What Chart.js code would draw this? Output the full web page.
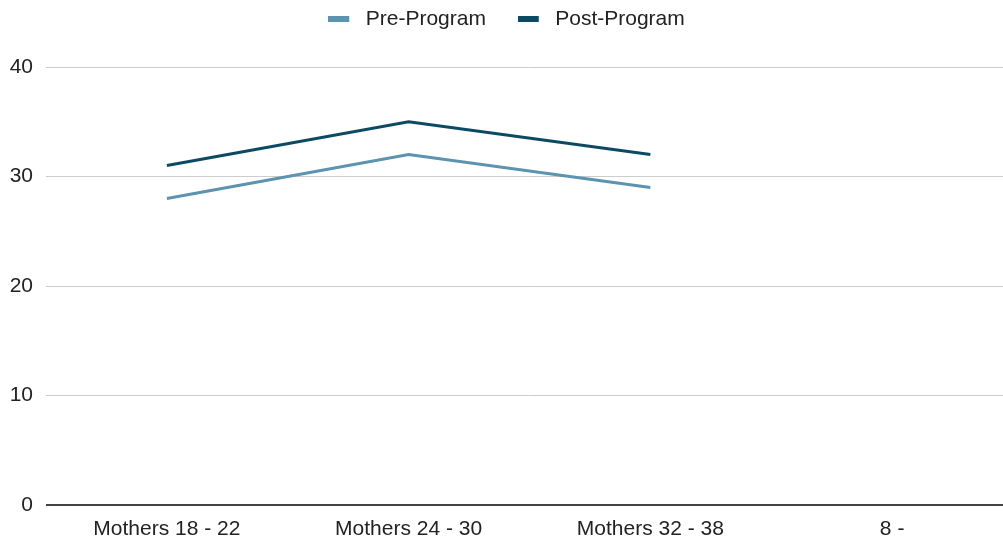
<!DOCTYPE html>
<html>
<head>
<meta charset="utf-8">
<script src="https://cdn.jsdelivr.net/npm/chart.js@4/dist/chart.umd.min.js"></script>
<style>
  html, body { margin: 0; padding: 0; background: #fff; overflow: hidden; }
  /* the original chart is slightly wider than the window and gets clipped on the right */
  #wrap { position: relative; width: 1013px; height: 540px; }
</style>
</head>
<body>
<div id="wrap"><canvas id="chart"></canvas></div>
<script>
// Chart data
const categories = ['Mothers 18 - 22', 'Mothers 24 - 30', 'Mothers 32 - 38', '8 -'];
const seriesNames = ['Pre-Program', 'Post-Program'];
const preProgram = [28, 32, 29, null];
const postProgram = [31, 35, 32, null];
const yTicks = [0, 10, 20, 30, 40];

const preColor = '#5b93b0';
const postColor = '#0b4a62';
const textColor = '#222222';
const font = { family: '"Liberation Sans", Arial, sans-serif', size: 21 };

// flat legend swatch with a little room after it
function swatch(color) {
  const c = document.createElement('canvas');
  c.width = 27; c.height = 6;
  const ctx = c.getContext('2d');
  ctx.fillStyle = color;
  ctx.fillRect(0, 0, 21, 6);
  return c;
}

new Chart(document.getElementById('chart'), {
  type: 'line',
  data: {
    labels: categories,
    datasets: [
      { label: seriesNames[0], data: preProgram, xAxisID: 'x', yAxisID: 'y', borderColor: preColor, backgroundColor: preColor, borderWidth: 3, pointRadius: 0, pointStyle: swatch(preColor), tension: 0 },
      { label: seriesNames[1], data: postProgram, xAxisID: 'x', yAxisID: 'y', borderColor: postColor, backgroundColor: postColor, borderWidth: 3, pointRadius: 0, pointStyle: swatch(postColor), tension: 0 }
    ]
  },
  options: {
    responsive: true,
    maintainAspectRatio: false,
    animation: false,
    layout: { padding: 0 },
    plugins: {
      legend: {
        position: 'top',
        labels: {
          color: textColor, font: font, usePointStyle: true, pointStyleWidth: 27, boxHeight: 6, padding: 8.5,
          // wider gap between the two items, without pushing the legend down
          generateLabels: (chart) => Chart.defaults.plugins.legend.labels.generateLabels(chart)
            .map((item, i) => Object.assign(item, { text: i === 0 ? item.text + '    ' : item.text }))
        }
      },
      tooltip: { enabled: false }
    },
    scales: {
      x: {
        offset: true,
        afterFit: (s) => { s.height = 35; },
        grid: { display: false, drawTicks: false },
        border: { display: false },
        ticks: { color: textColor, font: font, padding: 12, maxRotation: 0, autoSkip: false }
      },
      // empty spacer between legend and plot
      xTop: {
        position: 'top',
        offset: true,
        afterFit: (s) => { s.height = 27.5; },
        grid: { display: false, drawTicks: false },
        border: { display: false },
        ticks: { display: false }
      },
      y: {
        min: 0,
        max: 40,
        afterFit: (s) => { s.width = 46; },
        afterBuildTicks: (s) => { s.ticks = yTicks.map(v => ({ value: v })); },
        border: { display: false },
        grid: {
          drawTicks: false,
          color: (c) => c.tick && c.tick.value === 0 ? '#444444' : '#cccccc',
          lineWidth: (c) => c.tick && c.tick.value === 0 ? 2 : 1
        },
        ticks: { color: textColor, font: font, padding: 13 }
      }
    }
  }
});
</script>
</body>
</html>
